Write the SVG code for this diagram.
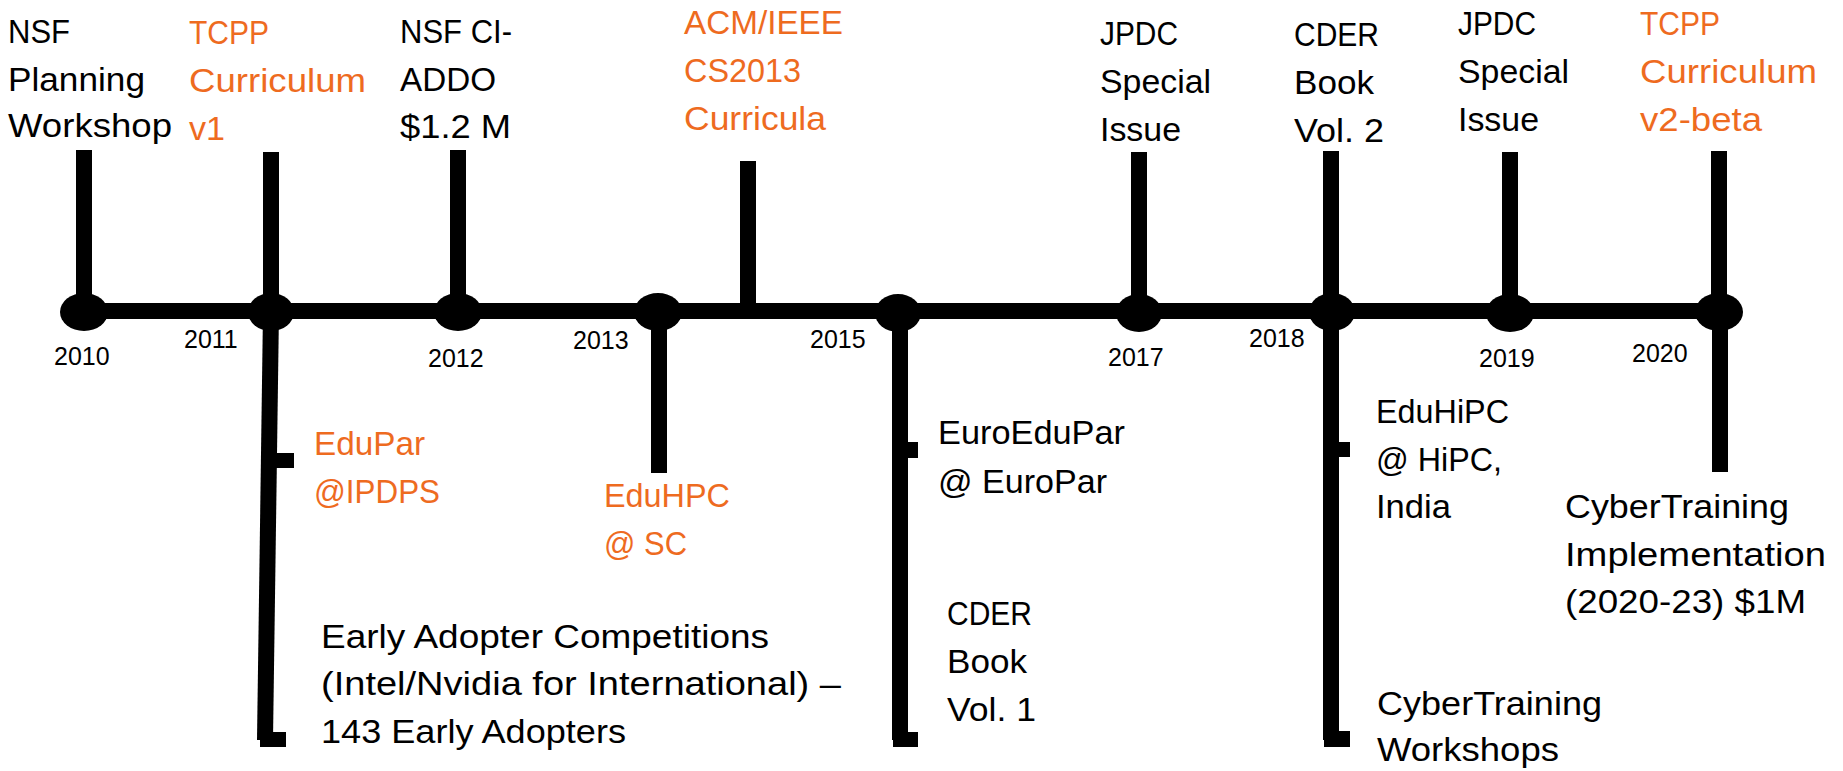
<svg xmlns="http://www.w3.org/2000/svg" width="1843" height="771" viewBox="0 0 1843 771">
  <style>
    .lbl { font-family: "Liberation Sans", Arial, sans-serif; font-size: 33px; fill: #000; }
    .hl { fill: #EE6B1F; }
    .yr { font-family: "Liberation Sans", Arial, sans-serif; font-size: 25px; fill: #000; }
    .bar { stroke: #000; stroke-width: 16; fill: none; stroke-linecap: butt; }
    .dot { fill: #000; }
  </style>

  <!-- timeline spine, stems, ticks and feet -->
  <g id="connectors">
    <line class="bar" x1="84" y1="311" x2="1719" y2="311"/>
    <!-- stems above the spine -->
    <line class="bar" x1="84" y1="150" x2="84" y2="311"/>
    <line class="bar" x1="271" y1="152" x2="271" y2="311"/>
    <line class="bar" x1="458" y1="150" x2="458" y2="311"/>
    <line class="bar" x1="748" y1="161" x2="748" y2="311"/>
    <line class="bar" x1="1139" y1="152" x2="1139" y2="311"/>
    <line class="bar" x1="1331" y1="151" x2="1331" y2="311"/>
    <line class="bar" x1="1510" y1="152" x2="1510" y2="311"/>
    <line class="bar" x1="1719" y1="151" x2="1719" y2="311"/>
    <!-- stems below the spine -->
    <line class="bar" x1="271" y1="311" x2="265" y2="740"/>
    <rect x="262" y="453" width="32" height="15"/>
    <rect x="260" y="732" width="26" height="15"/>
    <line class="bar" x1="659" y1="311" x2="659" y2="473"/>
    <line class="bar" x1="900" y1="311" x2="900" y2="740"/>
    <rect x="895" y="442" width="23" height="16"/>
    <rect x="893" y="732" width="25" height="15"/>
    <line class="bar" x1="1331" y1="311" x2="1331" y2="740"/>
    <rect x="1326" y="442" width="24" height="15"/>
    <rect x="1324" y="731" width="26" height="16"/>
    <line class="bar" x1="1720" y1="311" x2="1720" y2="472"/>
  </g>

  <!-- year nodes -->
  <g id="y2010"><ellipse class="dot" cx="84" cy="312" rx="24" ry="19"/><text class="yr" x="54" y="365">2010</text></g>
  <g id="y2011"><ellipse class="dot" cx="271" cy="312" rx="23" ry="19"/><text class="yr" x="184" y="348">2011</text></g>
  <g id="y2012"><ellipse class="dot" cx="458" cy="312" rx="24" ry="19"/><text class="yr" x="428" y="367">2012</text></g>
  <g id="y2013"><ellipse class="dot" cx="658" cy="312" rx="24" ry="19"/><text class="yr" x="573" y="349">2013</text></g>
  <g id="y2015"><ellipse class="dot" cx="898" cy="313" rx="23" ry="19"/><text class="yr" x="810" y="348">2015</text></g>
  <g id="y2017"><ellipse class="dot" cx="1139" cy="313" rx="23" ry="19"/><text class="yr" x="1108" y="366">2017</text></g>
  <g id="y2018"><ellipse class="dot" cx="1332" cy="312" rx="23" ry="19"/><text class="yr" x="1249" y="347">2018</text></g>
  <g id="y2019"><ellipse class="dot" cx="1510" cy="313" rx="24" ry="19"/><text class="yr" x="1479" y="367">2019</text></g>
  <g id="y2020"><ellipse class="dot" cx="1719" cy="312" rx="24" ry="19"/><text class="yr" x="1632" y="362">2020</text></g>

  <!-- events above the timeline -->
  <g id="nsf-workshop">
    <text class="lbl" x="8" y="43" textLength="62" lengthAdjust="spacingAndGlyphs">NSF</text>
    <text class="lbl" x="8" y="91" textLength="137" lengthAdjust="spacingAndGlyphs">Planning</text>
    <text class="lbl" x="8" y="137" textLength="164" lengthAdjust="spacingAndGlyphs">Workshop</text>
  </g>
  <g id="tcpp-v1">
    <text class="lbl hl" x="189" y="44" textLength="80" lengthAdjust="spacingAndGlyphs">TCPP</text>
    <text class="lbl hl" x="189" y="92" textLength="177" lengthAdjust="spacingAndGlyphs">Curriculum</text>
    <text class="lbl hl" x="189" y="140" textLength="36" lengthAdjust="spacingAndGlyphs">v1</text>
  </g>
  <g id="nsf-ci-addo">
    <text class="lbl" x="400" y="43" textLength="112" lengthAdjust="spacingAndGlyphs">NSF CI-</text>
    <text class="lbl" x="400" y="91" textLength="96" lengthAdjust="spacingAndGlyphs">ADDO</text>
    <text class="lbl" x="400" y="138" textLength="111" lengthAdjust="spacingAndGlyphs">$1.2 M</text>
  </g>
  <g id="acm-ieee">
    <text class="lbl hl" x="684" y="34" textLength="159" lengthAdjust="spacingAndGlyphs">ACM/IEEE</text>
    <text class="lbl hl" x="684" y="82" textLength="117" lengthAdjust="spacingAndGlyphs">CS2013</text>
    <text class="lbl hl" x="684" y="130" textLength="142" lengthAdjust="spacingAndGlyphs">Curricula</text>
  </g>
  <g id="jpdc-2017">
    <text class="lbl" x="1100" y="45" textLength="78" lengthAdjust="spacingAndGlyphs">JPDC</text>
    <text class="lbl" x="1100" y="93" textLength="111" lengthAdjust="spacingAndGlyphs">Special</text>
    <text class="lbl" x="1100" y="141" textLength="81" lengthAdjust="spacingAndGlyphs">Issue</text>
  </g>
  <g id="cder-vol2">
    <text class="lbl" x="1294" y="46" textLength="85" lengthAdjust="spacingAndGlyphs">CDER</text>
    <text class="lbl" x="1294" y="94" textLength="80" lengthAdjust="spacingAndGlyphs">Book</text>
    <text class="lbl" x="1294" y="142" textLength="90" lengthAdjust="spacingAndGlyphs">Vol. 2</text>
  </g>
  <g id="jpdc-2019">
    <text class="lbl" x="1458" y="35" textLength="78" lengthAdjust="spacingAndGlyphs">JPDC</text>
    <text class="lbl" x="1458" y="83" textLength="111" lengthAdjust="spacingAndGlyphs">Special</text>
    <text class="lbl" x="1458" y="131" textLength="81" lengthAdjust="spacingAndGlyphs">Issue</text>
  </g>
  <g id="tcpp-v2">
    <text class="lbl hl" x="1640" y="35" textLength="80" lengthAdjust="spacingAndGlyphs">TCPP</text>
    <text class="lbl hl" x="1640" y="83" textLength="177" lengthAdjust="spacingAndGlyphs">Curriculum</text>
    <text class="lbl hl" x="1640" y="131" textLength="122" lengthAdjust="spacingAndGlyphs">v2-beta</text>
  </g>

  <!-- events below the timeline -->
  <g id="edupar">
    <text class="lbl hl" x="314" y="455" textLength="111" lengthAdjust="spacingAndGlyphs">EduPar</text>
    <text class="lbl hl" x="314" y="503" textLength="126" lengthAdjust="spacingAndGlyphs">@IPDPS</text>
  </g>
  <g id="eduhpc">
    <text class="lbl hl" x="604" y="507" textLength="126" lengthAdjust="spacingAndGlyphs">EduHPC</text>
    <text class="lbl hl" x="604" y="555" textLength="83" lengthAdjust="spacingAndGlyphs">@ SC</text>
  </g>
  <g id="early-adopters">
    <text class="lbl" x="321" y="648" textLength="448" lengthAdjust="spacingAndGlyphs">Early Adopter Competitions</text>
    <text class="lbl" x="321" y="695" textLength="520" lengthAdjust="spacingAndGlyphs">(Intel/Nvidia for International) –</text>
    <text class="lbl" x="321" y="743" textLength="305" lengthAdjust="spacingAndGlyphs">143 Early Adopters</text>
  </g>
  <g id="euroedupar">
    <text class="lbl" x="938" y="444" textLength="187" lengthAdjust="spacingAndGlyphs">EuroEduPar</text>
    <text class="lbl" x="938" y="493" textLength="169" lengthAdjust="spacingAndGlyphs">@ EuroPar</text>
  </g>
  <g id="cder-vol1">
    <text class="lbl" x="947" y="625" textLength="85" lengthAdjust="spacingAndGlyphs">CDER</text>
    <text class="lbl" x="947" y="673" textLength="80" lengthAdjust="spacingAndGlyphs">Book</text>
    <text class="lbl" x="947" y="721" textLength="89" lengthAdjust="spacingAndGlyphs">Vol. 1</text>
  </g>
  <g id="eduhipc">
    <text class="lbl" x="1376" y="423" textLength="133" lengthAdjust="spacingAndGlyphs">EduHiPC</text>
    <text class="lbl" x="1376" y="471" textLength="126" lengthAdjust="spacingAndGlyphs">@ HiPC,</text>
    <text class="lbl" x="1376" y="518" textLength="75" lengthAdjust="spacingAndGlyphs">India</text>
  </g>
  <g id="cybertraining-impl">
    <text class="lbl" x="1565" y="518" textLength="224" lengthAdjust="spacingAndGlyphs">CyberTraining</text>
    <text class="lbl" x="1565" y="566" textLength="261" lengthAdjust="spacingAndGlyphs">Implementation</text>
    <text class="lbl" x="1565" y="613" textLength="241" lengthAdjust="spacingAndGlyphs">(2020-23) $1M</text>
  </g>
  <g id="cybertraining-ws">
    <text class="lbl" x="1377" y="715" textLength="225" lengthAdjust="spacingAndGlyphs">CyberTraining</text>
    <text class="lbl" x="1377" y="761" textLength="182" lengthAdjust="spacingAndGlyphs">Workshops</text>
  </g>
</svg>
